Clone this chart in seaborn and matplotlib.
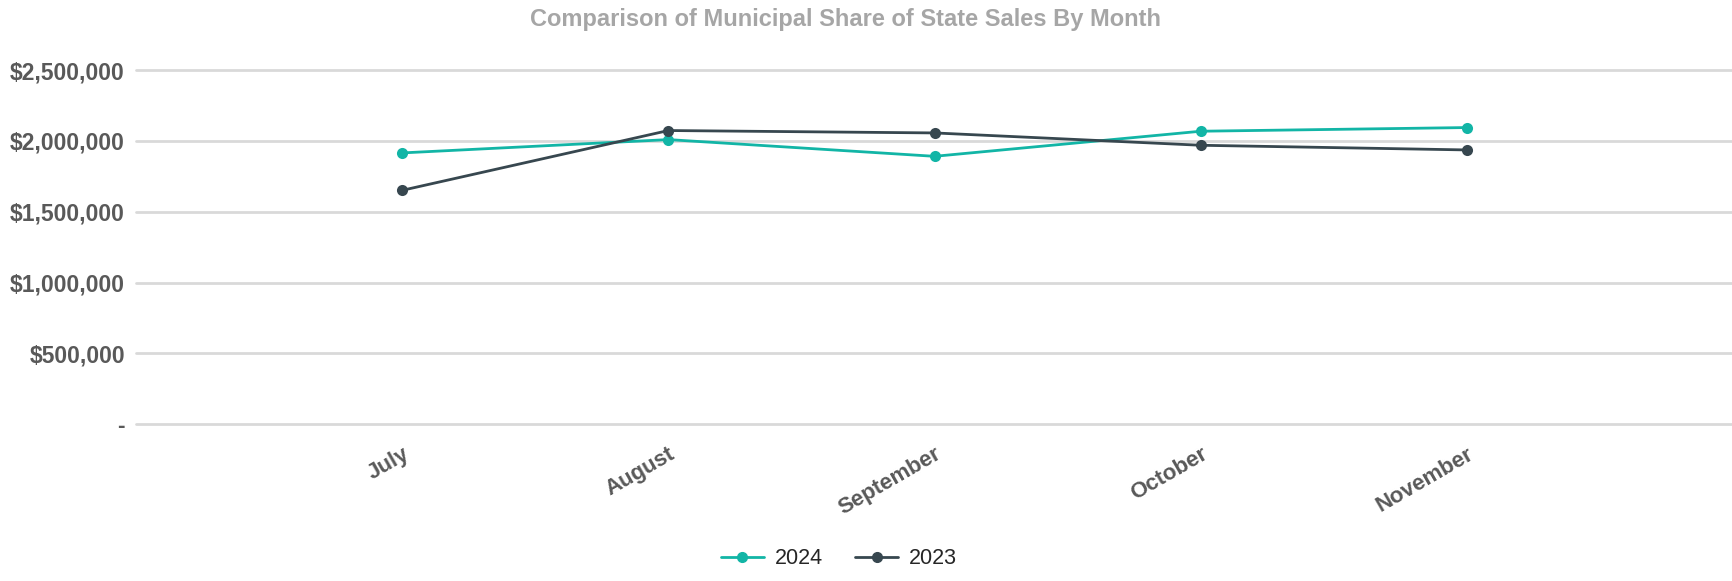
import pandas as pd
import seaborn as sns
import matplotlib.pyplot as plt
from matplotlib.ticker import FuncFormatter

months = ['July', 'August', 'September', 'October', 'November']
sales_2024 = [1915000, 2009000, 1891000, 2068000, 2094000]
sales_2023 = [1651000, 2073000, 2056000, 1969000, 1936000]
years = ['2024', '2023']
colors = ['#12B5A6', '#37474F']

rows = []
for year, values in zip(years, [sales_2024, sales_2023]):
    for i, (m, v) in enumerate(zip(months, values)):
        rows.append({'month': m, 'pos': i + 1, 'sales': v, 'year': year})
df = pd.DataFrame(rows)

sns.set_style('white')
plt.rcParams['font.family'] = ['Liberation Sans', 'DejaVu Sans']

fig = plt.figure(figsize=(17.33, 5.81), dpi=100)
ax = fig.add_axes([0.0785, 0.2697, 0.9215, 0.6098])

sns.lineplot(data=df, x='pos', y='sales', hue='year', hue_order=years,
             palette=colors, marker='o', markersize=8, markeredgewidth=0,
             linewidth=2, ax=ax, legend=False)

ax.set_xlim(0, 6)
ax.set_ylim(0, 2500000)
ax.set_yticks([0, 500000, 1000000, 1500000, 2000000, 2500000])
ax.yaxis.set_major_formatter(FuncFormatter(lambda v, p: '-' if v == 0 else f'${v:,.0f}'))
ax.set_xticks(range(1, len(months) + 1))
ax.set_xticklabels(months, rotation=30, ha='right', rotation_mode='anchor')
ax.grid(axis='y', color='#D9D9D9', linewidth=2)
ax.set_axisbelow(True)
for gl in ax.get_ygridlines():
    gl.set_clip_on(False)
for s in ax.spines.values():
    s.set_visible(False)
ax.tick_params(axis='y', length=0, labelsize=16.5, labelcolor='#595959', pad=8)
ax.tick_params(axis='x', length=0, labelsize=16, labelcolor='#595959', pad=14)
for lbl in ax.get_xticklabels() + ax.get_yticklabels():
    lbl.set_fontweight('bold')
ax.set_xlabel('')
ax.set_ylabel('')

fig.text(0.4876, 0.967, 'Comparison of Municipal Share of State Sales By Month',
         ha='center', va='center', fontsize=17, fontweight='bold', color='#A6A6A6')

handles = [plt.Line2D([], [], color=c, marker='o', markersize=7, linewidth=2) for c in colors]
fig.legend(handles, years, loc='center', bbox_to_anchor=(0.484, 0.038), ncol=2,
           frameon=False, fontsize=15.5, handlelength=2, columnspacing=1.5, handletextpad=0.5)

fig.savefig('out.png', dpi=100)
